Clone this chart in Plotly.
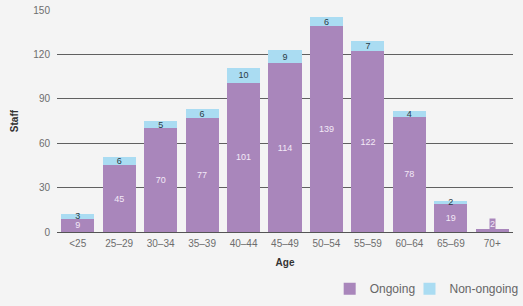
import plotly.graph_objects as go

categories = ["<25", "25–29", "30–34", "35–39", "40–44", "45–49", "50–54", "55–59", "60–64", "65–69", "70+"]
ongoing = [9, 45, 70, 77, 101, 114, 139, 122, 78, 19, 2]
non_ongoing = [3, 6, 5, 6, 10, 9, 6, 7, 4, 2, 0]
y_ticks = [0, 30, 60, 90, 120, 150]

PURPLE = "#a986bb"
BLUE = "#aadcf2"
FONT = "Liberation Sans, Arial, sans-serif"

ong_text = [str(v) if v >= 5 else "" for v in ongoing]
non_text = [str(v) if v > 0 else "" for v in non_ongoing]

fig = go.Figure()
fig.add_trace(go.Bar(
    x=categories, y=ongoing, name="Ongoing", marker_color=PURPLE,
    marker_line_width=0, legend="legend",
    text=ong_text, textposition="inside", insidetextanchor="middle",
    textfont=dict(color="#f3e9f7", size=9, family=FONT),
    textangle=0, constraintext="none", hoverinfo="y",
))
fig.add_trace(go.Bar(
    x=categories, y=non_ongoing, name="Non-ongoing", marker_color=BLUE,
    marker_line_width=0, legend="legend2",
    text=non_text, textposition="inside", insidetextanchor="middle",
    textfont=dict(color="#2b3a44", size=9, family=FONT),
    textangle=0, constraintext="none", hoverinfo="y",
))

# small-value ongoing labels (bar too short for inside text)
for c, v in zip(categories, ongoing):
    if v < 5:
        fig.add_annotation(x=c, y=v, yref="y", xref="x", text=str(v),
                           showarrow=False, yanchor="bottom", yshift=-1,
                           bgcolor=PURPLE, borderpad=0,
                           font=dict(color="#f3e9f7", size=9, family=FONT))

legend_common = dict(orientation="h", xanchor="left", y=-0.19, yanchor="top",
                     font=dict(size=12, color="#666666", family=FONT),
                     bgcolor="rgba(0,0,0,0)", itemwidth=30)

fig.update_layout(
    width=523, height=306,
    barmode="stack", bargap=0.2,
    paper_bgcolor="#f4f4f4", plot_bgcolor="#f4f4f4",
    margin=dict(l=57, r=10, t=10, b=74, autoexpand=False),
    font=dict(family=FONT, color="#666666", size=10),
    showlegend=True,
    legend=dict(x=0.598, **legend_common),
    legend2=dict(x=0.773, **legend_common),
    xaxis=dict(showgrid=False, showline=False, ticks="", ticklabelstandoff=4,
               tickfont=dict(size=10, color="#6d6d6d"),
               title=dict(text="<b>Age</b>", font=dict(size=10, color="#333333"), standoff=10)),
    yaxis=dict(range=[0, 150], tickvals=y_ticks, showgrid=True, gridcolor="#606060", gridwidth=1,
               zeroline=True, zerolinecolor="#555555", zerolinewidth=1,
               ticks="", ticklabelstandoff=6,
               tickfont=dict(size=10, color="#6d6d6d"),
               title=dict(text="<b>Staff</b>", font=dict(size=10, color="#333333"), standoff=12)),
)

fig.write_html("out.html")
